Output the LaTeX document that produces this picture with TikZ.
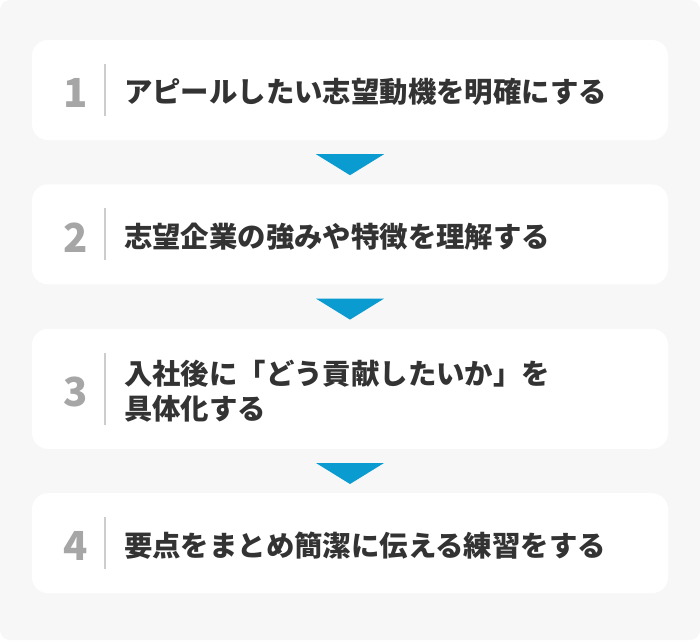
\documentclass[tikz,border=0pt]{standalone}
\usepackage{fontspec}
\newfontfamily\jp{Noto Sans CJK JP}
\usetikzlibrary{positioning}

\definecolor{bggray}{HTML}{F7F7F7}
\definecolor{numgray}{HTML}{A6A6A6}
\definecolor{linegray}{HTML}{CCCCCC}
\definecolor{textdark}{HTML}{333333}
\definecolor{arrowblue}{HTML}{0A9BD0}

\tikzset{
  stepbox/.style={fill=white, rounded corners=16pt, minimum width=636pt, minimum height=100pt, inner sep=0pt},
  num/.style={text=numgray, font=\jp\bfseries\fontsize{40}{40}\selectfont, inner sep=0pt, yshift=-3pt},
  stepname/.style={text=textdark, font=\jp\bfseries\fontsize{28.4}{35}\selectfont, inner sep=0pt, align=left, anchor=west, yshift=-2pt},
  divider/.style={draw=linegray, line width=2pt},
  pointer/.style={fill=arrowblue}
}

\begin{document}
\begin{tikzpicture}[x=1pt,y=-1pt]

\useasboundingbox (0,0) rectangle (700,640);
\fill[bggray, rounded corners=10pt] (0,0) rectangle (700,640);

\node[stepbox] (b1) at (350,90) {};
\node[stepbox, below=44pt of b1] (b2) {};
\node[stepbox, minimum height=120pt, below=44pt of b2] (b3) {};
\node[stepbox, below=44pt of b3] (b4) {};

% step 1
\node[num] (n1) at ([xshift=44pt]b1.west) {1};
\draw[divider] ([xshift=73pt,yshift=26pt]b1.west) -- ([xshift=73pt,yshift=-26pt]b1.west);
\node[stepname] (s1) at ([xshift=92pt]b1.west) {アピールしたい志望動機を明確にする};

% step 2
\node[num] (n2) at ([xshift=44pt]b2.west) {2};
\draw[divider] ([xshift=73pt,yshift=26pt]b2.west) -- ([xshift=73pt,yshift=-26pt]b2.west);
\node[stepname] (s2) at ([xshift=92pt]b2.west) {志望企業の強みや特徴を理解する};

% step 3
\node[num] (n3) at ([xshift=44pt]b3.west) {3};
\draw[divider] ([xshift=73pt,yshift=36pt]b3.west) -- ([xshift=73pt,yshift=-36pt]b3.west);
\node[stepname] (s3) at ([xshift=92pt]b3.west) {入社後に「どう貢献したいか」を\\具体化する};

% step 4
\node[num] (n4) at ([xshift=44pt]b4.west) {4};
\draw[divider] ([xshift=73pt,yshift=26pt]b4.west) -- ([xshift=73pt,yshift=-26pt]b4.west);
\node[stepname] (s4) at ([xshift=92pt]b4.west) {要点をまとめ簡潔に伝える練習をする};

% arrows
\fill[pointer] ([xshift=-34pt,yshift=-14pt]b1.south) -- ([xshift=34pt,yshift=-14pt]b1.south) -- ([yshift=9pt]b2.north) -- cycle;
\fill[pointer] ([xshift=-34pt,yshift=-14pt]b2.south) -- ([xshift=34pt,yshift=-14pt]b2.south) -- ([yshift=9pt]b3.north) -- cycle;
\fill[pointer] ([xshift=-34pt,yshift=-14pt]b3.south) -- ([xshift=34pt,yshift=-14pt]b3.south) -- ([yshift=9pt]b4.north) -- cycle;

\end{tikzpicture}
\end{document}
